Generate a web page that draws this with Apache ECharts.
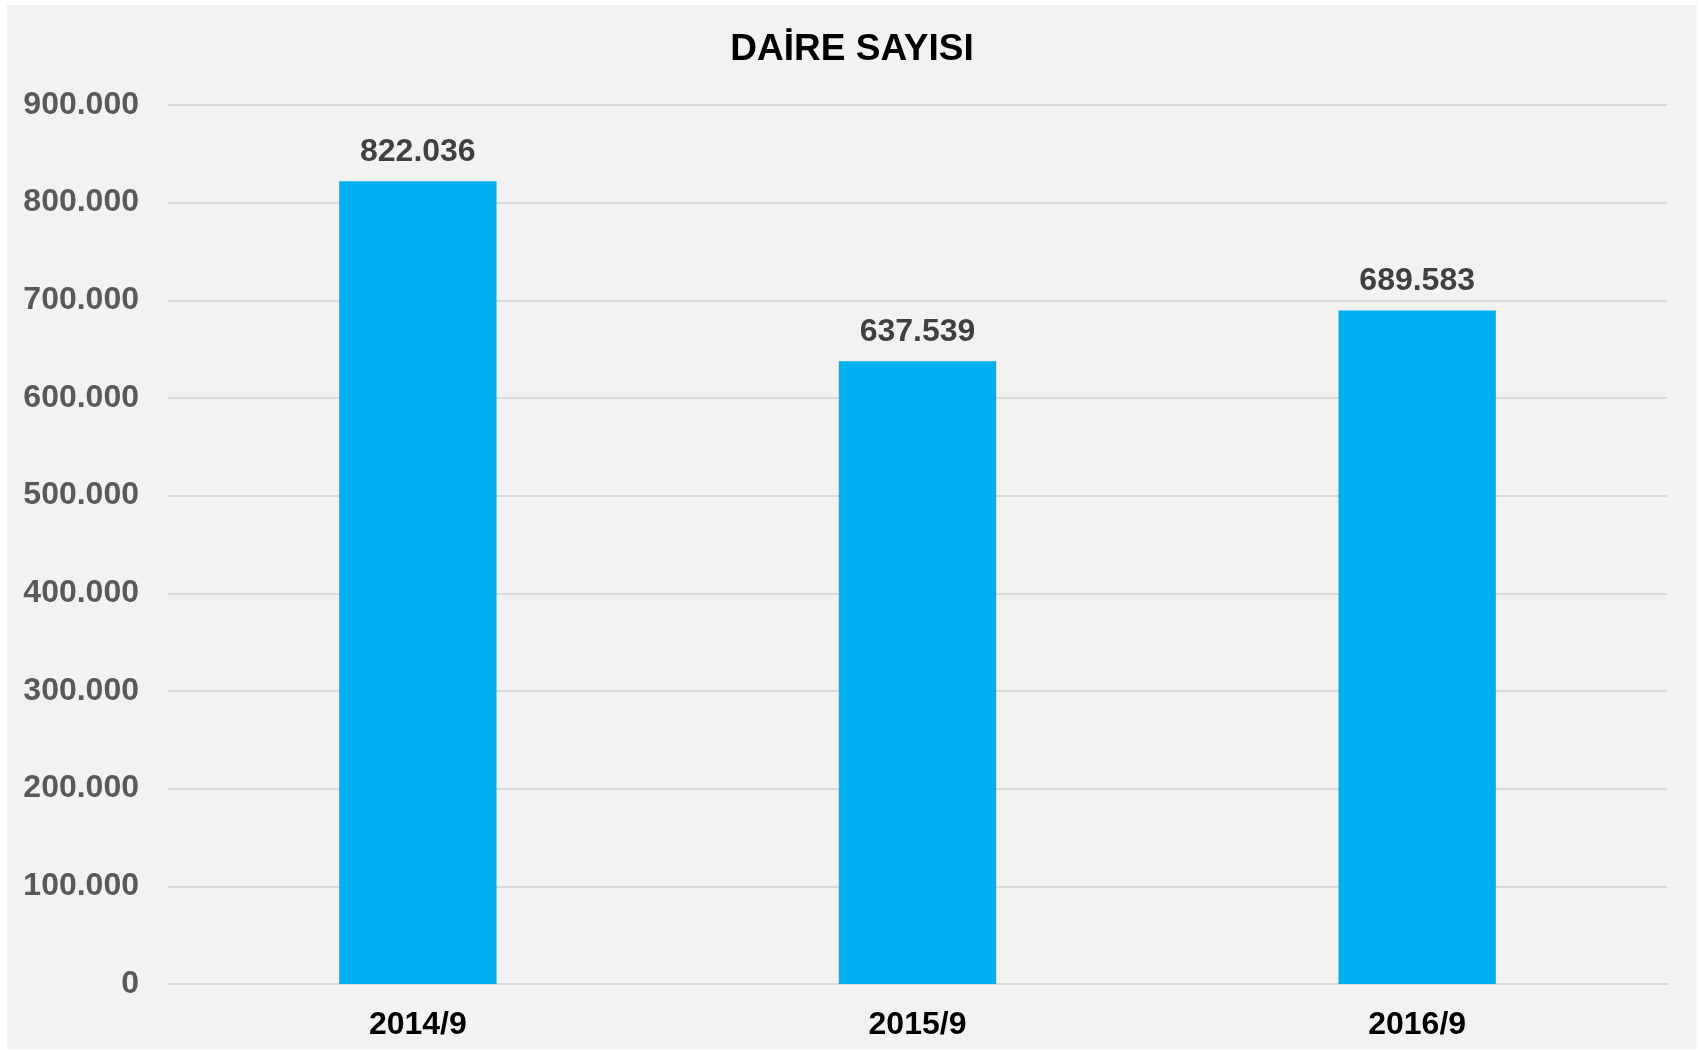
<!DOCTYPE html>
<html>
<head>
<meta charset="utf-8">
<script src="https://cdn.jsdelivr.net/npm/echarts@6/dist/echarts.min.js"></script>
<style>
  html, body { margin: 0; padding: 0; background: #ffffff; }
  #chart { position: absolute; left: 7px; top: 5px; width: 1690px; height: 1044px; }
</style>
</head>
<body>
<div id="chart"></div>
<script>
// daire sayisi by period
var categories = ['2014/9', '2015/9', '2016/9'];
var values = [822036, 637539, 689583];
var yMax = 900000;
var yStep = 100000;

function fmtNum(v) {
    // turkish style thousands separator
    return String(v).replace(/\B(?=(\d{3})+(?!\d))/g, '.');
}

var myChart = echarts.init(document.getElementById('chart'));
var fontName = 'Arial, "Liberation Sans", sans-serif';

var option = {
    backgroundColor: '#f2f2f2',
    title: {
        text: 'DAİRE SAYISI',
        left: 'center',
        top: 21,
        textStyle: {
            fontFamily: fontName,
            fontSize: 37,
            fontWeight: 'bold',
            color: '#000000'
        }
    },
    grid: {
        left: 161,
        right: 30,
        top: 100,
        bottom: 65
    },
    xAxis: {
        type: 'category',
        data: categories,
        axisTick: { show: false },
        axisLine: { lineStyle: { color: '#d9d9d9', width: 2 } },
        axisLabel: {
            margin: 25,
            fontFamily: fontName,
            fontSize: 32,
            fontWeight: 'bold',
            color: '#000000'
        }
    },
    yAxis: {
        type: 'value',
        min: 0,
        max: yMax,
        interval: yStep,
        axisLine: { show: false },
        axisTick: { show: false },
        splitLine: { lineStyle: { color: '#d9d9d9', width: 2 } },
        axisLabel: {
            margin: 29,
            fontFamily: fontName,
            fontSize: 32,
            fontWeight: 'bold',
            color: '#595959',
            formatter: function (v) { return fmtNum(v); }
        }
    },
    series: [{
        type: 'bar',
        data: values,
        barWidth: '31.5%',
        itemStyle: { color: '#00b0f0' },
        label: {
            show: true,
            position: 'top',
            distance: 13,
            fontFamily: fontName,
            fontSize: 32,
            fontWeight: 'bold',
            color: '#404040',
            formatter: function (p) { return fmtNum(p.value); }
        }
    }]
};
myChart.setOption(option);
</script>
</body>
</html>
